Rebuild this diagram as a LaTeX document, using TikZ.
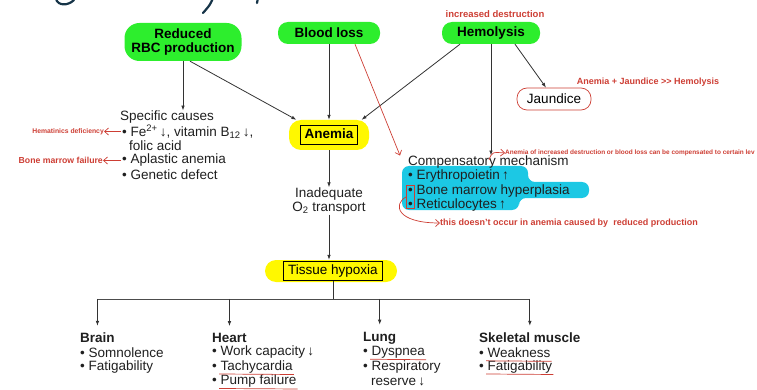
\documentclass[tikz,border=0pt]{standalone}
\usepackage{fontspec}
\setmainfont{Liberation Sans}
\usetikzlibrary{arrows.meta}

\definecolor{leafgreen}{RGB}{45,238,45}
\definecolor{marker}{RGB}{255,248,0}
\definecolor{aqua}{RGB}{28,200,228}
\definecolor{pen}{RGB}{205,62,52}
\definecolor{ink}{RGB}{22,52,72}
\newcommand{\txt}{\fontsize{13.5}{14.5}\selectfont}

\tikzset{
  cause/.style={fill=leafgreen,rounded corners=10pt,font=\txt\bfseries,align=center,inner sep=0pt},
  glow/.style={fill=marker,rounded corners=12pt},
  boxed/.style={draw,line width=0.8pt,inner xsep=4.5pt,inner ysep=3pt,text height=10pt,text depth=3pt,font=\txt},
  line/.style={anchor=west,inner sep=0pt,font=\txt,text=black!88},
  note/.style={text=pen,font=\bfseries\fontsize{9}{10}\selectfont,inner sep=0pt},
  flow/.style={draw=black!80,line width=0.8pt,-{Latex[length=5pt,width=3.6pt]}},
  redflow/.style={draw=pen,line width=0.7pt,-{Straight Barb[length=4pt,width=7pt]}},
  uline/.style={draw=pen,line width=0.7pt},
  scrawl/.style={draw=ink,line width=2.2pt,line cap=round}
}

\begin{document}
\begin{tikzpicture}[x=1pt,y=-1pt]
\useasboundingbox (0,0) rectangle (757,390);
\clip (0,0) rectangle (757,390);

% handwriting cut off at the top
\draw[scrawl] (56,-1) .. controls (58,6) and (68,6) .. (74,0);
\draw[scrawl] (213,-2) .. controls (210,5) .. (203,13);
\draw[scrawl] (258,-2) -- (257,3);

% the three causes
\node[cause,minimum width=117,minimum height=38,rounded corners=15pt] (rbc) at (183,42) {Reduced\\[-1pt]RBC production};
\node[cause,minimum width=102,minimum height=22] (blood) at (329,33) {Blood loss};
\node[cause,minimum width=98,minimum height=22] (hemo) at (491,33) {Hemolysis};
\node[note,font=\bfseries\fontsize{9.5}{10}\selectfont] (destr) at (495,14) {increased destruction};

% anemia
\node[glow,minimum width=80,minimum height=30] (anemiaglow) at (329,135) {};
\node[boxed,font=\txt\bfseries] (anemia) at (329,135) {Anemia};
\node[line,anchor=center,align=center] (o2) at (329,201) {Inadequate\\O\textsubscript{2} transport};
\node[glow,minimum width=132,minimum height=22,rounded corners=11pt] (hypglow) at (331,271) {};
\node[boxed] (hyp) at (333,271) {Tissue hypoxia};

% specific causes
\node[line] (causes) at (120,117) {Specific causes};
\node[line] (fe) at (122,131.5) {• Fe\textsuperscript{2+}\,↓, vitamin B\textsubscript{12}\,↓,};
\node[line] (folic) at (129,146) {folic acid};
\node[line] (aplastic) at (122,160.5) {• Aplastic anemia};
\node[line] (genetic) at (122,175) {• Genetic defect};
\node[note,font=\bfseries\fontsize{6.8}{8}\selectfont,anchor=east] (hemat) at (104,131.5) {Hematinics deficiency};
\node[note,font=\bfseries\fontsize{8.7}{10}\selectfont,anchor=east] (bmf) at (103,160.5) {Bone marrow failure};

% compensatory mechanism
\fill[aqua,rounded corners=7pt] (402,166) -- (528,166) -- (528,182) -- (589,182) -- (589,198) -- (519,198) -- (519,210) -- (402,210) -- cycle;
\node[line] (compt) at (408,162) {Compensatory mechanism};
\node[line] (erythro) at (408,176.5) {• Erythropoietin\,↑};
\node[line] (bmh) at (408,191) {• Bone marrow hyperplasia};
\node[line] (retic) at (408,205) {• Reticulocytes\,↑};
\node[note,font=\bfseries\fontsize{6.45}{7}\selectfont,anchor=west] (compnote) at (505,153) {Anemia of increased destruction or blood loss can be compensated to certain lev};
\node[note,anchor=west] (occur) at (440,223) {this doesn't occur in anemia caused by\ \ reduced production};

% jaundice
\node[draw=pen,line width=0.7pt,rounded corners=10pt,minimum width=74,minimum height=22,font=\txt] (jaund) at (554,99) {Jaundice};
\node[note] (sign) at (648,82) {Anemia + Jaundice >{}> Hemolysis};

% organs
\node[line,font=\txt\bfseries] (brain) at (80,338) {Brain};
\node[line] (brain1) at (80,352.5) {• Somnolence};
\node[line] (brain2) at (80,367) {• Fatigability};
\node[line,font=\txt\bfseries] (heart) at (212,338) {Heart};
\node[line] (heart1) at (212,352.5) {• Work capacity\,↓};
\node[line] (heart2) at (212,367) {• Tachycardia};
\node[line] (heart3) at (212,381.5) {• Pump failure};
\node[line,font=\txt\bfseries] (lung) at (363,338) {Lung};
\node[line] (lung1) at (363,352.5) {• Dyspnea};
\node[line] (lung2) at (363,367) {• Respiratory};
\node[line] (lung3) at (371,381.5) {reserve\,↓};
\node[line,font=\txt\bfseries] (muscle) at (479,338) {Skeletal muscle};
\node[line] (muscle1) at (479,352.5) {• Weakness};
\node[line] (muscle2) at (479,367) {• Fatigability};

% arrows
\draw[flow] (rbc.south) -- (rbc.south |- causes.north);
\draw[flow] (rbc.-70) -- (anemiaglow.155);
\draw[flow] (blood.south) -- (anemiaglow.north);
\draw[flow] ([xshift=-31pt]hemo.south) -- (anemiaglow.25);
\draw[flow] (hemo.south) -- (hemo.south |- compt.north);
\draw[flow] ([xshift=24pt]hemo.south) -- (jaund.125);
\draw[flow] (anemiaglow.south) -- (o2.north);
\draw[flow] (o2.south) -- (o2.south |- hypglow.north);
\draw[line width=0.8pt,draw=black!80] (hyp.south) -- ++(0,18) coordinate (split);
\draw[line width=0.8pt,draw=black!70] (brain.north |- split) -- (muscle.north |- split);
\foreach \n in {brain,heart,lung,muscle}
  \draw[flow,shorten >=7pt] (\n.north |- split) -- (\n.north);

% red pen
\draw[redflow] ([xshift=26pt]blood.south) -- ([xshift=-8pt]compt.north west);
\draw[redflow,shorten <=1pt] (fe.west) -- (hemat.east);
\draw[redflow,shorten <=1pt] (aplastic.west) -- (bmf.east);
\draw[redflow] (489,160) .. controls (492,152) .. (compnote.west);
\draw[uline,line width=0.6pt] (406,185) rectangle (414,208);
\draw[redflow] (406,197) .. controls (393,204) and (396,223) .. (occur.west);
\foreach \u in {heart2,heart3,lung1,muscle1,muscle2}
  \draw[uline] ([xshift=7pt,yshift=-3.5pt]\u.base west) -- ([xshift=1pt,yshift=-4pt]\u.base east);

\end{tikzpicture}
\end{document}
